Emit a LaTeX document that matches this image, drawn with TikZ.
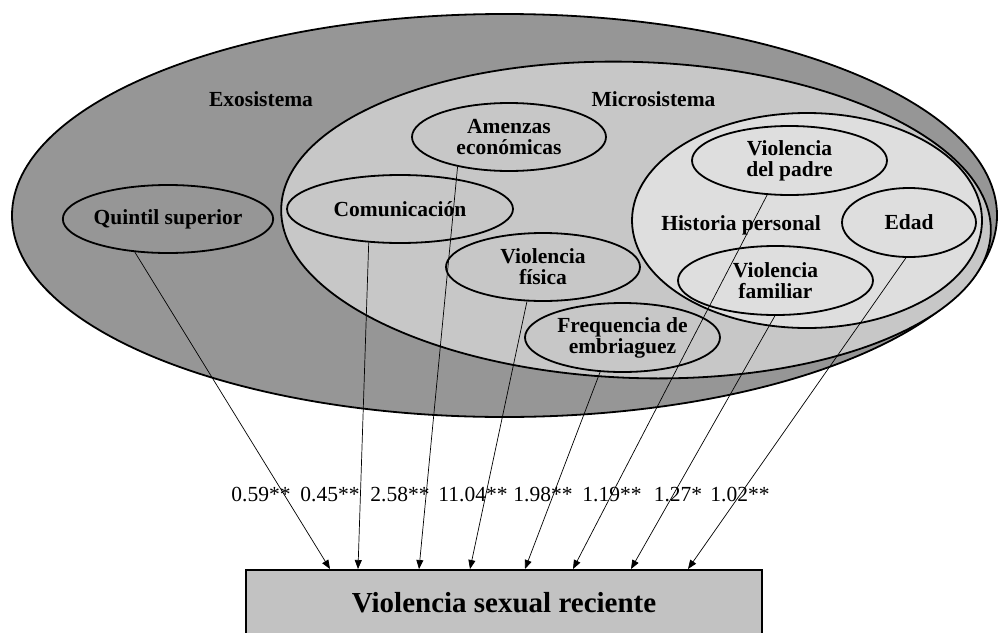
\documentclass[tikz,border=0pt]{standalone}
\usepackage{fontspec}
\setmainfont{Liberation Serif}
\usetikzlibrary{shapes.geometric,arrows.meta}
\definecolor{exogris}{gray}{0.59}
\definecolor{microgris}{gray}{0.78}
\definecolor{histgris}{gray}{0.87}
\definecolor{cajagris}{gray}{0.76}
\newcommand{\etiq}{\fontsize{21.5}{21}\selectfont\bfseries}
\begin{document}
\begin{tikzpicture}[x=1pt, y=-1pt,
    circulo/.style={ellipse, draw, line width=1.8pt, inner sep=0pt, align=center, font=\etiq},
    flecha/.style={-{Triangle[length=9pt,width=7pt]}, line width=0.7pt},
    coef/.style={font=\fontsize{21.5}{21}\selectfont, anchor=base}]
    \useasboundingbox (0,0) rectangle (998,632);
    \clip (0,0) rectangle (998,632);

    % 三个大圈
    \node[circulo, fill=exogris, minimum width=985, minimum height=403] (exo) at (504.5,215.5) {};
    \node[circulo, fill=microgris, rotate=-2, minimum width=710, minimum height=316] (micro) at (636,220) {};
    \node[circulo, fill=histgris, minimum width=350, minimum height=215] (hist) at (807,220.5) {};

    % 圈的名字
    \node[font=\etiq, anchor=base] (exolab) at (261,106.7) {Exosistema};
    \node[font=\etiq, anchor=base] (microlab) at (653.5,106.7) {Microsistema};
    \node[font=\etiq, anchor=base] (histlab) at (741,230) {Historia personal};

    % 小圈 (因素)
    \node[circulo, fill=exogris, minimum width=196, minimum height=68] (quintil) at (168,219) {Quintil superior};
    \node[circulo, fill=microgris, minimum width=226, minimum height=68] (comunic) at (400,209) {Comunicación};
    \node[circulo, fill=microgris, minimum width=194, minimum height=68] (amenazas) at (509,137) {Amenzas\\económicas};
    \node[circulo, fill=microgris, minimum width=194, minimum height=68] (fisica) at (543,267) {Violencia\\física};
    \node[circulo, fill=microgris, minimum width=195, minimum height=69] (frecuencia) at (622.5,337.5) {Frequencia de\\embriaguez};
    \node[circulo, fill=histgris, minimum width=195, minimum height=69] (padre) at (789.5,160.5) {Violencia\\del padre};
    \node[circulo, fill=histgris, minimum width=134, minimum height=69] (edad) at (909,222.5) {Edad};
    \node[circulo, fill=histgris, minimum width=195, minimum height=69] (familiar) at (775.5,280.5) {Violencia\\familiar};

    % 结果框
    \node[draw, line width=1.8pt, fill=cajagris, minimum width=516, minimum height=66,
          font=\fontsize{29}{30}\selectfont\bfseries] (vsr) at (504,603) {Violencia sexual reciente};

    % 系数
    \foreach \x/\t [count=\i] in {261/0.59**, 330/0.45**, 400/2.58**, 473/11.04**, 543/1.98**, 612/1.19**, 678/1.27*, 740/1.02**}
        \node[coef] (c\i) at (\x,501.5) {\t};

    % 箭头终点
    \foreach \x [count=\i] in {330,358,419,470,525,573,631,688}
        \coordinate (p\i) at (\x,569);

    % 箭头
    \foreach \n/\a/\i in {quintil/225/1, comunic/227/2, amenazas/210/3, fisica/245/4, frecuencia/237/5, padre/237/6, familiar/269/7, edad/265/8}
        \draw[flecha] (\n.\a) -- (p\i);
\end{tikzpicture}
\end{document}
